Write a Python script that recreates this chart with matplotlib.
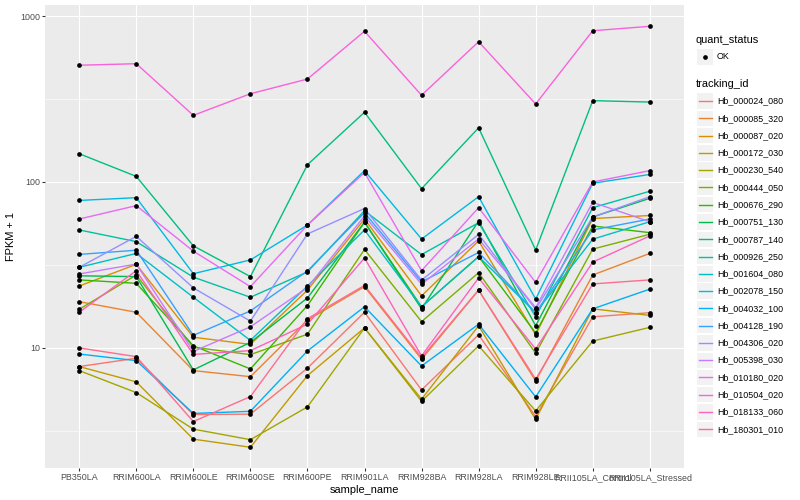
import matplotlib
matplotlib.use("Agg")
import matplotlib.pyplot as plt
import numpy as np
from matplotlib.ticker import FixedLocator, NullFormatter
from matplotlib.patches import Rectangle
from matplotlib.lines import Line2D

plt.rcParams['font.family'] = ['Liberation Sans', 'DejaVu Sans']

samples = ["PB350LA", "RRIM600LA", "RRIM600LE", "RRIM600SE", "RRIM600PE",
           "RRIM901LA", "RRIM928BA", "RRIM928LA", "RRIM928LE",
           "RRII105LA_Control", "RRII105LA_Stressed"]

tracking_ids = ["Hb_000024_080", "Hb_000085_320", "Hb_000087_020", "Hb_000172_030",
                "Hb_000230_540", "Hb_000444_050", "Hb_000676_290", "Hb_000751_130",
                "Hb_000787_140", "Hb_000926_250", "Hb_001604_080", "Hb_002078_150",
                "Hb_004032_100", "Hb_004128_190", "Hb_004306_020", "Hb_005398_030",
                "Hb_010180_020", "Hb_010504_020", "Hb_018133_060", "Hb_180301_010"]

colors = ["#F8766D", "#EA8331", "#D89000", "#C09B00", "#A3A500", "#7CAE00",
          "#39B600", "#00BB4E", "#00BF7D", "#00C1A3", "#00BFC4", "#00BAE0",
          "#00B0F6", "#35A2FF", "#9590FF", "#C77CFF", "#E76BF3", "#FA62DB",
          "#FF62BC", "#FF6C91"]

# FPKM + 1 per sample, in sample order
Hb_000024_080 = [7.72, 8.67, 3.97, 3.99, 7.55, 16.4, 5.58, 12.0, 3.86, 15.4, 16.3]
Hb_000085_320 = [19.0, 16.4, 7.30, 6.71, 14.7, 23.4, 8.55, 22.3, 6.32, 27.5, 37.1]
Hb_000087_020 = [23.6, 31.9, 11.6, 10.5, 22.3, 59.8, 20.6, 44.1, 12.0, 60.2, 62.8]
Hb_000172_030 = [7.72, 6.24, 2.82, 2.52, 6.81, 13.2, 4.91, 13.6, 3.71, 17.2, 15.7]
Hb_000230_540 = [7.30, 5.38, 3.24, 2.80, 4.41, 13.2, 4.77, 10.3, 4.17, 11.0, 13.3]
Hb_000444_050 = [17.1, 27.5, 10.1, 9.11, 12.1, 39.2, 14.4, 28.4, 9.29, 39.4, 48.4]
Hb_000676_290 = [25.7, 24.5, 10.3, 7.47, 18.0, 57.2, 17.7, 35.5, 12.3, 54.3, 49.5]
Hb_000751_130 = [27.2, 26.9, 7.37, 10.8, 20.0, 57.2, 17.2, 58.2, 13.6, 61.5, 79.7]
Hb_000787_140 = [148, 108, 41.2, 26.9, 127, 263, 91.1, 212, 38.9, 309, 303]
Hb_000926_250 = [51.4, 43.7, 26.7, 20.2, 28.7, 67.1, 36.5, 56.8, 15.4, 70.0, 87.9]
Hb_001604_080 = [30.6, 37.1, 20.2, 11.1, 23.6, 51.4, 17.7, 35.5, 16.3, 45.2, 57.6]
Hb_002078_150 = [77.4, 80.4, 28.0, 33.9, 55.0, 117, 45.3, 81.5, 19.7, 98.2, 111]
Hb_004032_100 = [9.19, 8.38, 4.03, 4.15, 9.59, 17.7, 7.78, 13.9, 5.07, 17.2, 22.6]
Hb_004128_190 = [36.6, 38.8, 11.9, 16.7, 29.1, 65.3, 25.0, 37.6, 16.3, 51.4, 59.8]
Hb_004306_020 = [30.6, 47.0, 23.0, 14.5, 48.6, 69.2, 25.6, 48.3, 17.1, 61.5, 81.5]
Hb_005398_030 = [27.9, 32.0, 9.52, 13.4, 23.1, 62.4, 24.2, 45.3, 17.5, 75.3, 57.6]
Hb_010180_020 = [59.8, 72.0, 38.3, 23.4, 55.0, 114, 29.2, 70.0, 24.8, 100, 117]
Hb_010504_020 = [505, 516, 252, 340, 417, 809, 333, 700, 295, 815, 867]
Hb_018133_060 = [16.4, 29.2, 9.14, 9.63, 13.9, 34.8, 8.95, 26.4, 9.86, 32.9, 47.3]
Hb_180301_010 = [10.0, 8.86, 3.60, 5.09, 15.0, 23.8, 8.74, 22.3, 6.48, 24.3, 25.7]

series = [Hb_000024_080, Hb_000085_320, Hb_000087_020, Hb_000172_030, Hb_000230_540,
          Hb_000444_050, Hb_000676_290, Hb_000751_130, Hb_000787_140, Hb_000926_250,
          Hb_001604_080, Hb_002078_150, Hb_004032_100, Hb_004128_190, Hb_004306_020,
          Hb_005398_030, Hb_010180_020, Hb_010504_020, Hb_018133_060, Hb_180301_010]

W, H = 800, 500
fig = plt.figure(figsize=(8, 5), dpi=100)
ax = fig.add_axes([45 / W, 1 - 468 / H, (684 - 45) / W, (468 - 5) / H])
ax.set_facecolor('#EBEBEB')

x = np.arange(len(samples))
for vals, col in zip(series, colors):
    ax.plot(x, vals, color=col, lw=1.0, zorder=3)
for vals in series:
    ax.plot(x, vals, linestyle='none', marker='o', color='black', ms=3.4,
            mec='none', zorder=4)

ax.set_yscale('log')
ax.set_ylim(1.89, 1165)
ax.set_xlim(-0.6, 10.6)
ax.set_xticks(x)
ax.set_xticklabels(samples)
ax.yaxis.set_major_locator(FixedLocator([10, 100, 1000]))
ax.set_yticklabels(['10', '100', '1000'])
ax.yaxis.set_minor_locator(FixedLocator([10 ** 0.5, 10 ** 1.5, 10 ** 2.5]))
ax.yaxis.set_minor_formatter(NullFormatter())
ax.xaxis.set_minor_locator(FixedLocator([]))
ax.tick_params(which='minor', length=0)
ax.tick_params(which='major', length=2.0, width=0.77, color='#333333',
               labelcolor='#4D4D4D', labelsize=6.4, pad=1.6)
ax.grid(which='major', color='white', lw=0.8)
ax.grid(which='minor', axis='y', color='white', lw=0.4)
ax.set_axisbelow(True)
for s in ax.spines.values():
    s.set_visible(False)

ax.set_xlabel('sample_name', fontsize=7.9, labelpad=2.5)
ax.set_ylabel('FPKM + 1', fontsize=7.9, labelpad=3)

# legend overlay in pixel coordinates
lax = fig.add_axes([0, 0, 1, 1])
lax.set_xlim(0, W)
lax.set_ylim(H, 0)
lax.axis('off')
lax.patch.set_alpha(0)

lax.text(696, 43, 'quant_status', fontsize=7.9, va='baseline', ha='left')
lax.add_patch(Rectangle((697.3, 49.2), 15.4, 15.4, facecolor='#F2F2F2', edgecolor='none'))
lax.plot([705], [56.9], marker='o', color='black', ms=3.4, mec='none')
lax.text(717, 56.9, 'OK', fontsize=6.4, va='center', ha='left')

lax.text(696, 87.3, 'tracking_id', fontsize=7.9, va='baseline', ha='left')
row0, step = 101.0, 17.28
for i, (tid, col) in enumerate(zip(tracking_ids, colors)):
    cy = row0 + i * step
    lax.add_patch(Rectangle((697.3, cy - 7.7), 15.4, 15.4, facecolor='#F2F2F2',
                            edgecolor='none'))
    lax.add_line(Line2D([698.5, 711.5], [cy, cy], color=col, lw=1.0))
    lax.text(717, cy, tid, fontsize=6.4, va='center', ha='left')

fig.savefig('out.png', dpi=100)
